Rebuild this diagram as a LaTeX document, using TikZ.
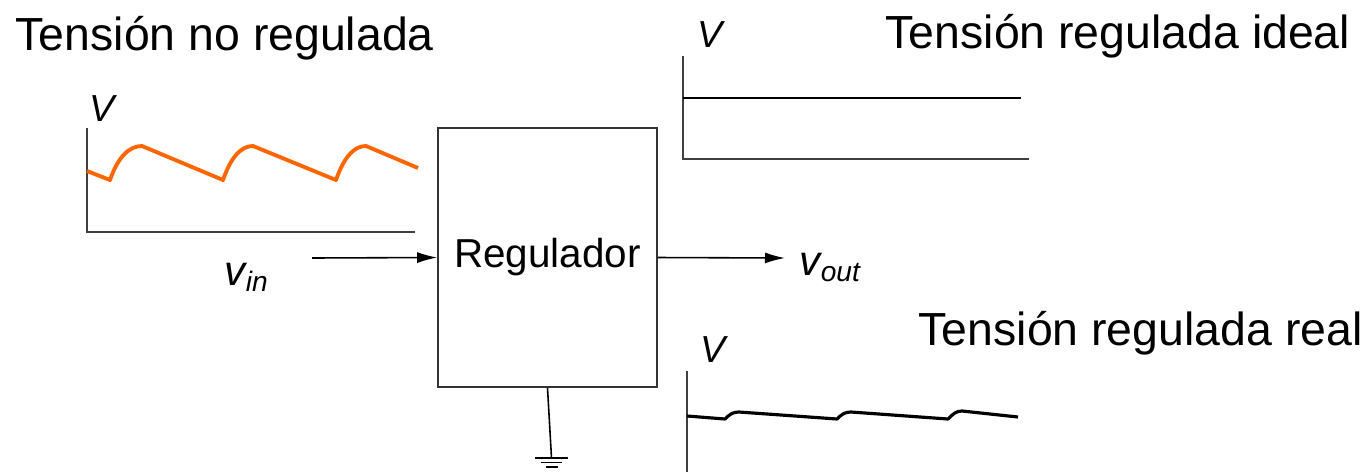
\documentclass[tikz,border=0pt]{standalone}
\usepackage{fontspec}
\setmainfont{Liberation Sans}
\usepackage{xcolor}
\usetikzlibrary{arrows.meta, positioning}

\definecolor{waveorange}{RGB}{255,102,0}

\begin{document}
\begin{tikzpicture}[
    x=0.01cm, y=-0.01cm,
    >={Latex[length=2mm,width=1.1mm]},
    titletext/.style={font=\fontsize{13.2}{15}\selectfont, inner sep=0pt, anchor=base west},
    vlabel/.style={font=\fontsize{10.7}{12}\selectfont\itshape, inner sep=0pt, anchor=base west},
    siglabel/.style={font=\fontsize{12}{14}\selectfont\itshape, inner sep=0pt, anchor=base west},
    regbox/.style={draw=black!80, line width=0.4pt, minimum width=2.19cm, minimum height=2.59cm,
                   font=\fontsize{11.5}{14}\selectfont, inner sep=0pt},
    axis/.style={line width=0.45pt, draw=black!75},
    arr/.style={->, line width=0.45pt},
    inwave/.style={waveorange, line width=1.1pt, line join=round},
    outwave/.style={black, line width=0.9pt, line join=round},
]
\useasboundingbox (0,0) rectangle (1372,472);

% titles
\node[titletext] (tin)   at (15,50)   {Tensión no regulada};
\node[titletext] (tid)   at (885,48)  {Tensión regulada ideal};
\node[titletext] (treal) at (918,345) {Tensión regulada real};

% regulator block
\node[regbox] (reg) at (547.5,257.5) {Regulador};

\coordinate (vinstart) at (312,258);
\coordinate (voutend)  at (785,258);
\draw[arr] (vinstart) -- (reg.west);
\draw[arr] (reg.east) -- (voutend);
\node[siglabel] (vin)  at (224,285) {v\textsubscript{in}};
\node[siglabel] (vout) at (799,275) {v\textsubscript{out}};

% ground
\coordinate (gnd) at (551.5,458);
\draw[line width=0.45pt] (reg.south) -- (gnd);
\draw[line width=0.45pt] ([xshift=-0.16cm]gnd) -- ([xshift=0.16cm]gnd);
\draw[line width=0.45pt] ([xshift=-0.1cm,yshift=-0.045cm]gnd) -- ([xshift=0.1cm,yshift=-0.045cm]gnd);
\draw[line width=0.45pt] ([xshift=-0.06cm,yshift=-0.09cm]gnd) -- ([xshift=0.06cm,yshift=-0.09cm]gnd);

% unregulated input
\node[vlabel] (vl1) at (89,121) {V};
\draw[axis] (87,128) -- (87,232) -- (415,232);
\draw[inwave] (87,171) -- (110,180)
    .. controls (118,157) and (129,146) .. (142,146) -- (223,180)
    .. controls (231,157) and (241,146) .. (253,146) -- (336,180)
    .. controls (344,157) and (354,146) .. (366,146) -- (418,168);

% ideal output
\node[vlabel] (vl2) at (697,47) {V};
\draw[axis] (683,56) -- (683,159) -- (1029,159);
\draw[line width=0.45pt] (683,98) -- (1021,98);

% real output
\node[vlabel] (vl3) at (700,362) {V};
\draw[axis] (687,371) -- (687,472);
\draw[outwave] (687,416) -- (725,419)
    .. controls (730,414) and (733,412) .. (739,412) -- (837,419)
    .. controls (842,414) and (845,412) .. (851,412) -- (948,419)
    .. controls (953,414) and (956,411) .. (962,411) -- (1018,417);
\end{tikzpicture}
\end{document}
